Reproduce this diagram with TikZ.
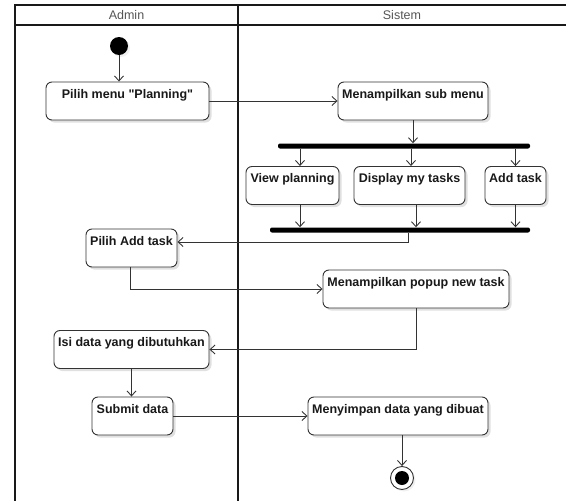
\documentclass[tikz,border=0pt]{standalone}
\usepackage{fontspec}
\setmainfont{Liberation Sans}
\usetikzlibrary{arrows.meta,shadows}

\definecolor{lineC}{HTML}{333333}
\definecolor{headC}{HTML}{555555}

\tikzset{
  act/.style={draw=lineC, line width=0.9pt, rounded corners=6pt, fill=white,
    font=\fontsize{12.5}{14}\selectfont\bfseries, text=black!90,
    inner xsep=2pt, inner ysep=5pt, text height=11pt, text depth=17pt,
    drop shadow={shadow xshift=2.5pt, shadow yshift=-2.5pt, opacity=0.12, fill=black}},
  bar/.style={fill=black, draw=none, minimum height=5pt, inner sep=0pt, rounded corners=2pt},
  flow/.style={draw=lineC, line width=0.9pt, -{Straight Barb[length=5pt,width=9pt]}},
  lane/.style={draw=black!90, line width=1.6pt},
  lanehead/.style={font=\fontsize{12.5}{14}\selectfont, text=headC, inner sep=0pt}
}

\begin{document}
\begin{tikzpicture}[x=1pt,y=-1pt]
  \useasboundingbox (0,0) rectangle (566,501);

  % swimlane frame
  \draw[lane] (15,501) -- (15,5) -- (566,5);
  \draw[lane] (15,25) -- (566,25);
  \draw[lane] (238,5) -- (238,501);
  \node[lanehead] (hadmin) at (126.5,15.5) {Admin};
  \node[lanehead] (hsys) at (402,15.5) {Sistem};

  % initial and final states
  \node[circle, fill=black, minimum size=18pt, inner sep=0pt,
        drop shadow={shadow xshift=2pt, shadow yshift=-2pt, opacity=0.12}] (start) at (119,46) {};
  \node[circle, draw=lineC, line width=0.9pt, fill=white, minimum size=23pt, inner sep=0pt,
        drop shadow={shadow xshift=2pt, shadow yshift=-2pt, opacity=0.12}] (stop) at (402,478) {};
  \node[circle, fill=black, minimum size=14pt, inner sep=0pt] (stopdot) at (stop.center) {};

  % activities
  \node[act, minimum width=163pt] (planning) at (127.5,101) {Pilih menu \textquotedbl Planning\textquotedbl};
  \node[act, minimum width=150pt] (submenu)  at (413,101)   {Menampilkan sub menu};
  \node[act, minimum width=93pt]  (viewp)    at (292.5,185.5) {View planning};
  \node[act, minimum width=111pt] (mytasks)  at (409.5,185.5) {Display my tasks};
  \node[act, minimum width=61pt]  (addtask)  at (515.5,185.5) {Add task};
  \node[act, minimum width=91pt]  (pilihadd) at (131.5,248) {Pilih Add task};
  \node[act, minimum width=186pt] (popup)    at (416,289)   {Menampilkan popup new task};
  \node[act, minimum width=155pt] (isidata)  at (131.5,349.5) {Isi data yang dibutuhkan};
  \node[act, minimum width=81pt]  (submit)   at (132.5,416) {Submit data};
  \node[act, minimum width=180pt] (simpan)   at (398,416)   {Menyimpan data yang dibuat};

  % fork and join bars
  \node[bar, minimum width=252pt] (fork) at (404,146) {};
  \node[bar, minimum width=260pt] (join) at (400,230) {};

  % flows
  \draw[flow] (start) -- (start |- planning.north);
  \draw[flow] (planning.east) -- (submenu.west);
  \draw[flow] (submenu.south) -- (submenu.south |- fork.north);
  \draw[flow] ([xshift=7.5pt]viewp.north |- fork.south) -- ([xshift=7.5pt]viewp.north);
  \draw[flow] ([xshift=1.5pt]mytasks.north |- fork.south) -- ([xshift=1.5pt]mytasks.north);
  \draw[flow] (addtask.north |- fork.south) -- (addtask.north);
  \draw[flow] ([xshift=7.5pt]viewp.south) -- ([xshift=7.5pt]viewp.south |- join.north);
  \draw[flow] ([xshift=6.5pt]mytasks.south) -- ([xshift=6.5pt]mytasks.south |- join.north);
  \draw[flow] (addtask.south) -- (addtask.south |- join.north);
  \draw[flow] ([xshift=8pt]join.south) |- ([yshift=6pt]pilihadd.east);
  \draw[flow] ([xshift=-1.5pt]pilihadd.south) |- (popup.west);
  \draw[flow] (popup.south) |- (isidata.east);
  \draw[flow] (isidata.south) -- (isidata.south |- submit.north);
  \draw[flow] (submit.east) -- (simpan.west);
  \draw[flow] (simpan.south -| stop.north) -- (stop.north);
\end{tikzpicture}
\end{document}
